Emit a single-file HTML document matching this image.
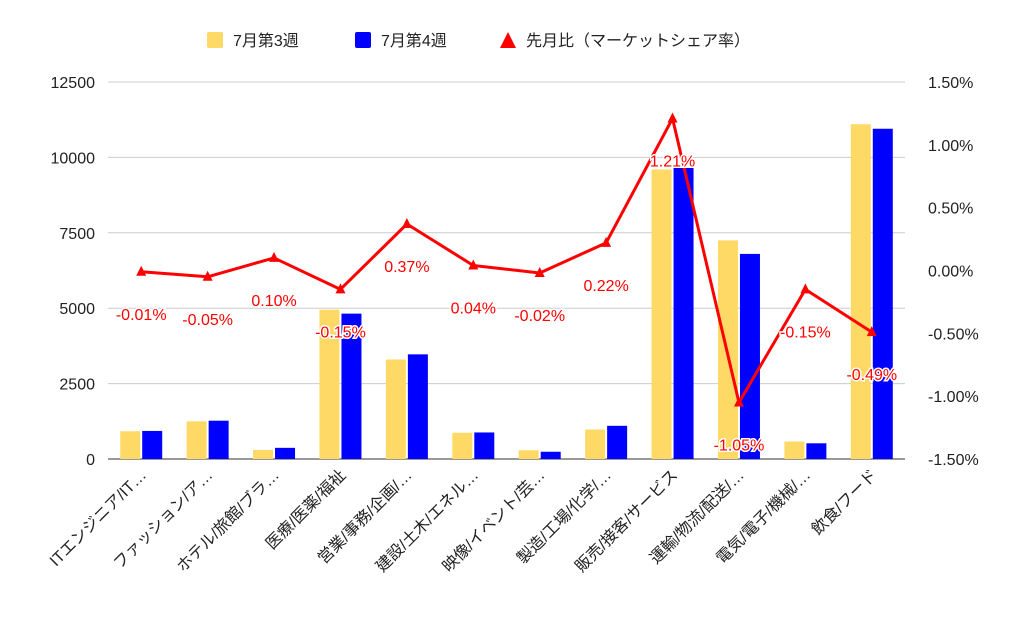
<!DOCTYPE html>
<html><head><meta charset="utf-8"><style>
html,body{margin:0;padding:0;background:#fff}
svg text{font-family:"Liberation Sans","Noto Sans CJK JP",sans-serif}
</style></head><body>
<svg id="c" width="1024" height="633"></svg>
<script>
const categories=["ITエンジニア/IT…","ファッション/ア…","ホテル/旅館/ブラ…","医療/医薬/福祉","営業/事務/企画/…","建設/土木/エネル…","映像/イベント/芸…","製造/工場/化学/…","販売/接客/サービス","運輸/物流/配送/…","電気/電子/機械/…","飲食/フード"];
const week3=[920,1250,300,4950,3300,870,290,980,9600,7250,580,11100];
const week4=[930,1270,370,4820,3470,880,240,1100,9650,6800,520,10950];
const ratio=[-0.01,-0.05,0.10,-0.15,0.37,0.04,-0.02,0.22,1.21,-1.05,-0.15,-0.49];
const leftTicks=[0,2500,5000,7500,10000,12500];
const rightTicks=[-1.5,-1.0,-0.5,0,0.5,1.0,1.5];
const ns="http://www.w3.org/2000/svg",svg=document.getElementById('c');
const yTop=82,yBot=459,x0=108,x1=905;
const yL=v=>yBot-(v/12500)*(yBot-yTop);
const yR=v=>yBot-((v+1.5)/3)*(yBot-yTop);
const step=(x1-x0)/categories.length;
const xC=i=>x0+step*(i+0.5);
function mk(t,a,p){const e=document.createElementNS(ns,t);for(const k in a)e.setAttribute(k,a[k]);(p||svg).appendChild(e);return e;}
leftTicks.forEach(v=>{
 const g=mk('line',{x1:x0,x2:x1,y1:yL(v),y2:yL(v),stroke:v===0?'#333':'#ccc','stroke-width':1});
 
 
 const t=mk('text',{x:95,y:yL(v)+6,'text-anchor':'end','font-size':16,fill:'#222'});t.textContent=v;
 
 
});
rightTicks.forEach(v=>{
 const t=mk('text',{x:928,y:yR(v)+6,'font-size':16,fill:'#222'});t.textContent=v.toFixed(2)+'%';
 
 
});
const bw=20;
categories.forEach((c,i)=>{
 const cx=xC(i);
 const a=mk('rect',{x:cx-bw-1,y:yL(week3[i]),width:bw,height:yBot-yL(week3[i]),fill:'#FFD966'});
 
 
 const b=mk('rect',{x:cx+1,y:yL(week4[i]),width:bw,height:yBot-yL(week4[i]),fill:'#0000FF'});
 
 
 const t=mk('text',{x:cx+6,y:476,'text-anchor':'end','font-size':16,fill:'#222',transform:`rotate(-45 ${cx+6} 476)`});t.textContent=c;
 
 
});
const pl=mk('polyline',{points:ratio.map((v,i)=>xC(i)+','+yR(v)).join(' '),fill:'none',stroke:'#FF0000','stroke-width':3,'stroke-linejoin':'round'});


ratio.forEach((v,i)=>{
 const x=xC(i),y=yR(v);
 const m=mk('polygon',{points:`${x},${y-6} ${x-5},${y+4} ${x+5},${y+4}`,fill:'#FF0000'});
 
 
 const t=mk('text',{x:x,y:y+48,'text-anchor':'middle','font-size':16,fill:'#FF0000',stroke:'#fff','stroke-width':3,'paint-order':'stroke'});
 t.textContent=v.toFixed(2)+'%';
 
 
});
const lg=mk('g',{});


const items=[[207,'#FFD966','rect','7月第3週'],[355,'#0000FF','rect','7月第4週'],[500,'#FF0000','tri','先月比（マーケットシェア率）']];
items.forEach(([x,col,s,l])=>{
 if(s==='rect')mk('rect',{x:x,y:32,width:16,height:16,rx:2,fill:col},lg);
 else mk('polygon',{points:`${x+8},32 ${x},48 ${x+16},48`,fill:col},lg);
 const t=mk('text',{x:x+26,y:46,'font-size':16,fill:'#222'},lg);t.textContent=l;
 
 
});
</script>
</body></html>
